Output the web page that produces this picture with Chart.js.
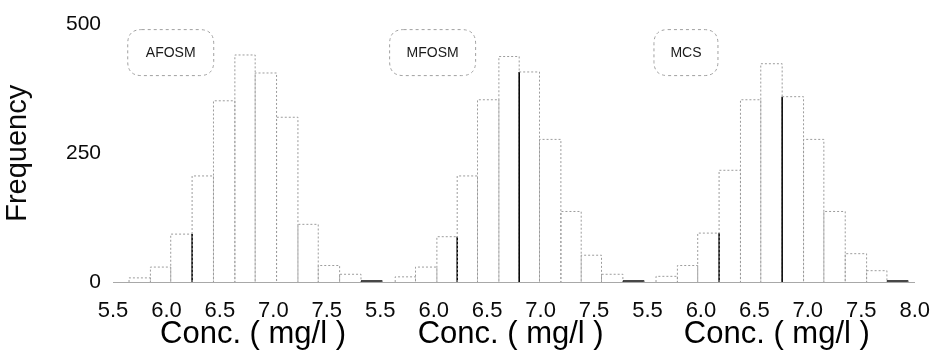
<!DOCTYPE html>
<html>
<head>
<meta charset="utf-8">
<script src="https://cdn.jsdelivr.net/npm/chart.js@4.4.1/dist/chart.umd.min.js"></script>
<style>
  html, body { margin: 0; padding: 0; background: #ffffff; }
  #wrap { position: relative; width: 946px; height: 362px; }
</style>
</head>
<body>
<div id="wrap"><canvas id="c" width="946" height="362"></canvas></div>
<script>
// ---------------- data ----------------
const panelNames = ['AFOSM', 'MFOSM', 'MCS'];
const xTitle = 'Conc. ( mg/l )';
const yTitle = 'Frequency';
const xTickLabels = ['5.5','6.0','6.5','7.0','7.5','5.5','6.0','6.5','7.0','7.5','5.5','6.0','6.5','7.0','7.5','8.0'];
const yTickValues = [0, 250, 500];

// bin edges (mg/l) and frequencies per panel
const afosmEdges  = [5.65, 5.85, 6.04, 6.24, 6.44, 6.64, 6.83, 7.03, 7.23, 7.42, 7.62, 7.82, 8.02];
const afosmCounts = [8, 29, 93, 206, 352, 441, 406, 320, 112, 32, 15, 2];

const mfosmEdges  = [5.64, 5.83, 6.03, 6.22, 6.41, 6.61, 6.80, 6.99, 7.19, 7.38, 7.57, 7.77, 7.97];
const mfosmCounts = [10, 29, 88, 206, 354, 438, 408, 277, 137, 52, 15, 2];

const mcsEdges    = [5.58, 5.78, 5.97, 6.17, 6.37, 6.56, 6.76, 6.96, 7.15, 7.35, 7.55, 7.74, 7.94];
const mcsCounts   = [11, 32, 95, 217, 354, 424, 360, 277, 137, 55, 22, 2];

// ---------------- layout / style (not data) ----------------
const panelSpan = 2.5;              // each panel shows 5.5 .. 8.0
const xMin = 5.5, xMax = 5.5 + 3 * panelSpan;
const titleCenters = [6.81, 6.72, 6.71];
const boxCenters = [6.04, 5.99, 5.86];
const boxWidths = [86, 86, 64];
const strongEdges = [[3], [3, 6], [3, 6]];   // darker (overlapping) bar sides
const strongTops = [[11], [11], [11]];       // dark bar tops
const FONT = '"Liberation Sans", Arial, Helvetica, sans-serif';

const panels = [
  { edges: afosmEdges, counts: afosmCounts },
  { edges: mfosmEdges, counts: mfosmCounts },
  { edges: mcsEdges,   counts: mcsCounts }
];

function outline(p, idx) {
  const pts = [];
  const off = idx * panelSpan;
  for (let k = 0; k < p.counts.length; k++) {
    const a = p.edges[k] + off, b = p.edges[k + 1] + off, v = p.counts[k];
    pts.push({x: a, y: 0}, {x: a, y: v}, {x: b, y: v}, {x: b, y: 0});
  }
  return pts;
}

function isStrong(pi, i) {
  const p = panels[pi];
  const k = Math.floor(i / 4), m = i % 4;
  const list = strongEdges[pi];
  if (m === 1) return strongTops[pi].includes(k);
  if (m === 2) { // right side of bin k  (edge k+1)
    return list.includes(k + 1) && k + 1 < p.counts.length && p.counts[k] <= p.counts[k + 1];
  }
  if (m === 0) { // left side of bin k (edge k)
    return list.includes(k) && k > 0 && p.counts[k] < p.counts[k - 1];
  }
  return false;
}

const datasets = panels.map((p, pi) => ({
  type: 'line',
  label: panelNames[pi],
  data: outline(p, pi),
  borderColor: '#9c9c9c',
  borderWidth: 1,
  borderDash: [2, 2],
  pointRadius: 0,
  tension: 0,
  fill: false,
  segment: {
    borderColor: ctx => isStrong(pi, ctx.p0DataIndex) ? '#0a0a0a' : undefined,
    borderDash: ctx => isStrong(pi, ctx.p0DataIndex) ? [] : undefined,
    borderWidth: ctx => isStrong(pi, ctx.p0DataIndex) ? 1.6 : undefined
  }
}));

function roundRect(ctx, x, y, w, h, r) {
  ctx.beginPath();
  ctx.moveTo(x + r, y);
  ctx.lineTo(x + w - r, y);
  ctx.quadraticCurveTo(x + w, y, x + w, y + r);
  ctx.lineTo(x + w, y + h - r);
  ctx.quadraticCurveTo(x + w, y + h, x + w - r, y + h);
  ctx.lineTo(x + r, y + h);
  ctx.quadraticCurveTo(x, y + h, x, y + h - r);
  ctx.lineTo(x, y + r);
  ctx.quadraticCurveTo(x, y, x + r, y);
  ctx.closePath();
}

const panelText = {
  id: 'panelText',
  afterDraw(chart) {
    const {ctx, scales: {x}, chartArea} = chart;
    ctx.save();
    // axis titles under each panel
    ctx.fillStyle = '#000';
    ctx.textAlign = 'center';
    ctx.textBaseline = 'middle';
    ctx.font = '31px ' + FONT;
    titleCenters.forEach((c, i) => {
      ctx.fillText(xTitle, x.getPixelForValue(c + i * panelSpan), chartArea.bottom + 52);
    });
    // rounded label boxes
    panelNames.forEach((name, i) => {
      const cx = x.getPixelForValue(boxCenters[i] + i * panelSpan);
      const cy = chartArea.top + 28;
      const w = boxWidths[i], h = 46;
      ctx.setLineDash([3, 3]);
      ctx.strokeStyle = '#a0a0a0';
      ctx.lineWidth = 1;
      roundRect(ctx, cx - w / 2, cy - h / 2, w, h, 14);
      ctx.stroke();
      ctx.setLineDash([]);
      ctx.fillStyle = '#1a1a1a';
      ctx.font = '14px ' + FONT;
      ctx.fillText(name, cx, cy + 1);
    });
    ctx.restore();
  }
};

new Chart(document.getElementById('c'), {
  type: 'line',
  data: { datasets },
  options: {
    responsive: false,
    animation: false,
    devicePixelRatio: 1,
    layout: { padding: { left: 0, top: 20, right: 20, bottom: 0 } },
    plugins: { legend: { display: false }, tooltip: { enabled: false } },
    scales: {
      x: {
        type: 'linear',
        min: xMin,
        max: xMax,
        afterFit: s => { s.height = 80; },
        afterBuildTicks: s => { s.ticks = xTickLabels.map((_, i) => ({ value: xMin + i * 0.5 })); },
        ticks: {
          autoSkip: false,
          maxRotation: 0,
          padding: 16,
          color: '#0a0a0a',
          font: { family: FONT, size: 22 },
          callback: (v, i) => xTickLabels[i]
        },
        grid: { display: false, drawTicks: false },
        border: { display: true, color: '#a8a8a8', dash: [2, 3], width: 1 }
      },
      y: {
        min: 0,
        max: 500,
        afterFit: s => { s.width = 113; },
        afterBuildTicks: s => { s.ticks = yTickValues.map(v => ({ value: v })); },
        ticks: {
          padding: 12,
          color: '#0a0a0a',
          font: { family: FONT, size: 21 }
        },
        grid: { display: false, drawTicks: false },
        border: { display: false },
        title: {
          display: true,
          text: yTitle,
          color: '#0a0a0a',
          font: { family: FONT, size: 29 },
          padding: { top: 1, bottom: 0 }
        }
      }
    }
  },
  plugins: [panelText]
});
</script>
</body>
</html>
